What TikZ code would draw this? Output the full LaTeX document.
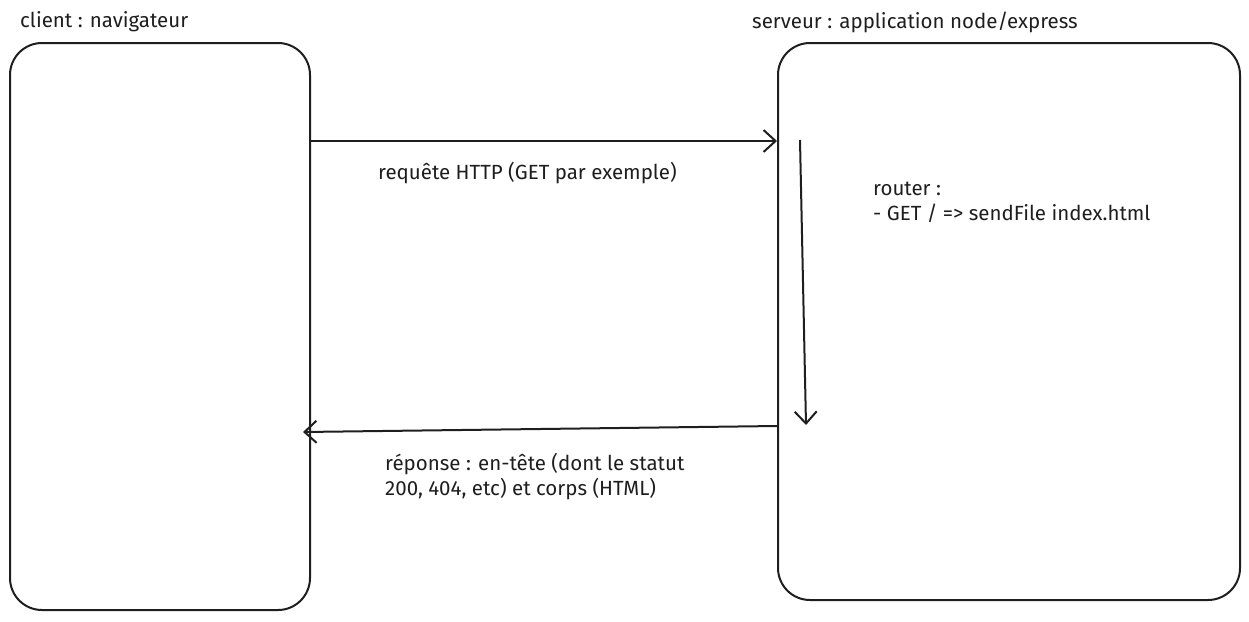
\documentclass[tikz,border=0pt]{standalone}
\usepackage{fontspec}
\setmainfont{Fira Sans}
\usepackage{xcolor}
\usepackage{tikz}
\usetikzlibrary{positioning,calc,arrows.meta}
\definecolor{InkBlack}{RGB}{30,30,30}
\tikzset{
    sidebox/.style={rectangle, draw=InkBlack, line width=2pt, rounded corners=32pt, inner sep=0pt},
    boxtitle/.style={anchor=west, inner sep=0pt, text=InkBlack, font=\fontsize{20.5}{25}\selectfont},
    msglabel/.style={anchor=west, inner sep=0pt, text=InkBlack, align=left, font=\fontsize{20.5}{25}\selectfont},
    msgarrow/.style={draw=InkBlack, line width=2pt, -{Straight Barb[length=12pt, width=22pt, line width=2pt]}}
}
\begin{document}
\begin{tikzpicture}[x=1pt, y=-1pt]
    \useasboundingbox (0,0) rectangle (1249,621);
    % Les deux cotes : client et serveur
    \node[sidebox, minimum width=300pt, minimum height=567pt] (client) at (160,326.5) {};
    \node[sidebox, minimum width=462pt, minimum height=557pt] (serveur) at (1009,321.5) {};
    \node[boxtitle] (clientTitle) at (20,22) {client : navigateur};
    \node[boxtitle] (serveurTitle) at (752,22) {serveur : application node/express};
    % Requete puis reponse
    \coordinate (reqStart) at (client.east |- 0,141);
    \coordinate (reqEnd) at (serveur.west |- 0,141);
    \coordinate (repStart) at (serveur.west |- 0,426);
    \coordinate (repEnd) at (303,432);
    \draw[msgarrow] (reqStart) -- (reqEnd);
    \draw[msgarrow] (repStart) -- (repEnd);
    \node[msglabel] (reqLabel) at (378,173) {requête HTTP (GET par exemple)};
    \node[msglabel] (repLabel) at (385,477) {réponse : en-tête (dont le statut\\200, 404, etc) et corps (HTML)};
    % Traitement dans le routeur
    \coordinate (routeTop) at (800,140);
    \coordinate (routeBottom) at (806,425);
    \draw[msgarrow] (routeTop) -- (routeBottom);
    \node[msglabel] (routerLabel) at (873,202) {router :\\- GET / => sendFile index.html};
\end{tikzpicture}
\end{document}
